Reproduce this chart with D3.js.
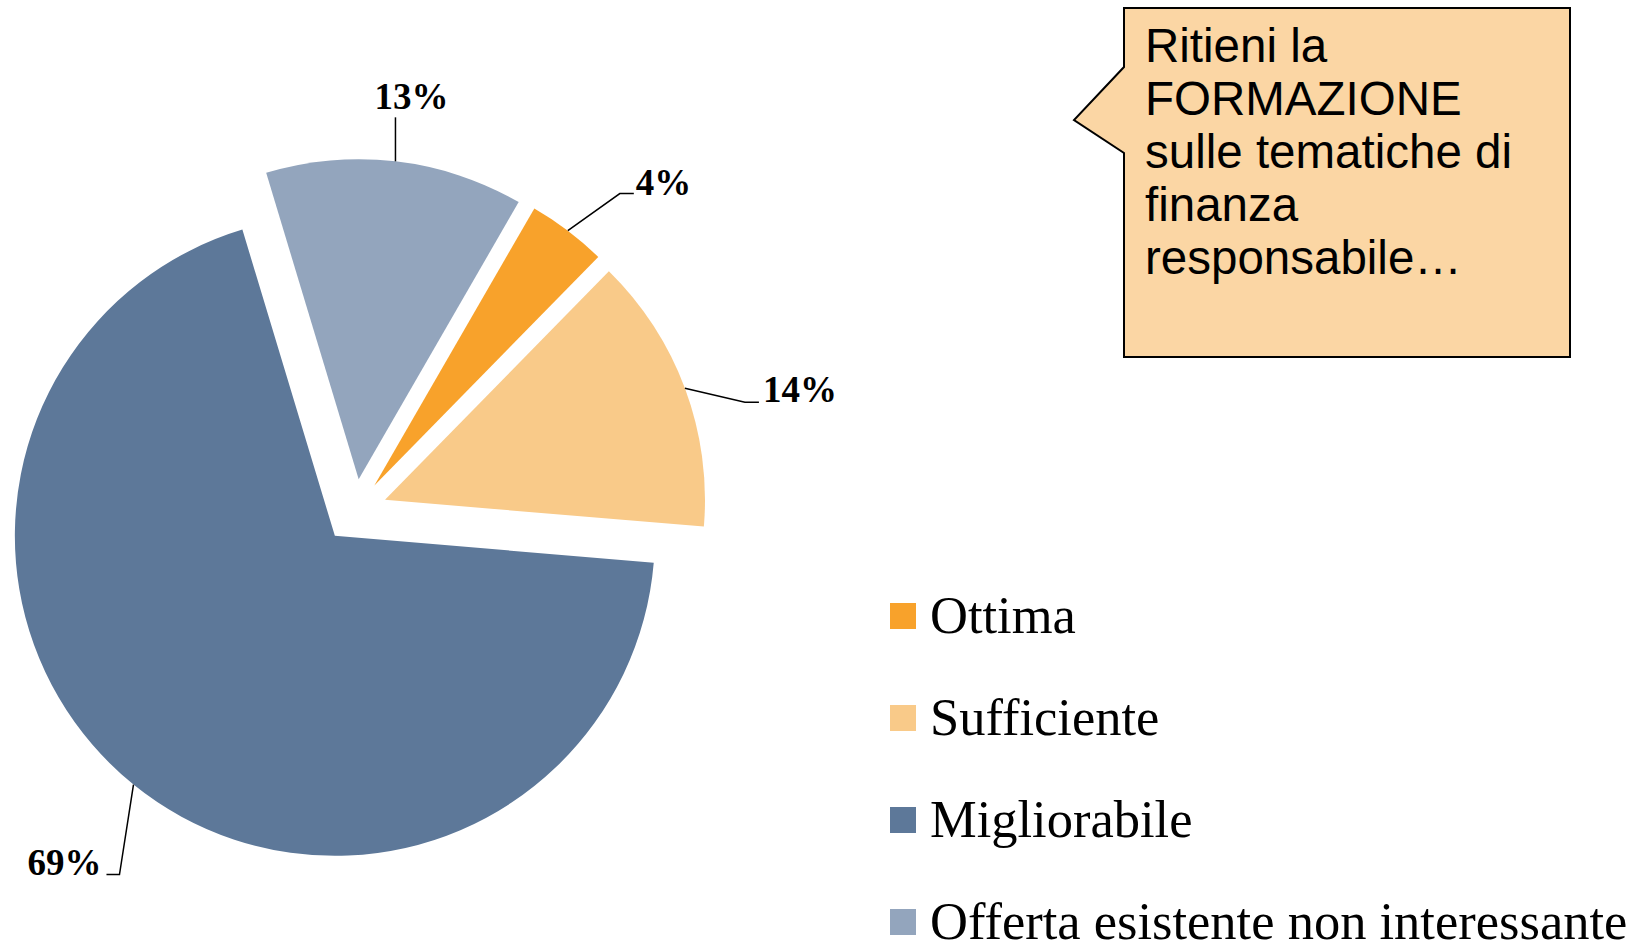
<!DOCTYPE html>
<html>
<head>
<meta charset="utf-8">
<script src="https://cdn.jsdelivr.net/npm/d3@7"></script>
<style>
  body { margin: 0; background: #fff; }
  svg { display: block; }
</style>
</head>
<body>
<div id="chart"></div>
<script>
/* chart data */
const categories = ["Ottima", "Sufficiente", "Migliorabile", "Offerta esistente non interessante"];
const values = [4, 14, 69, 13];
const percentLabels = ["4%", "14%", "69%", "13%"];
const calloutLines = ["Ritieni la", "FORMAZIONE", "sulle tematiche di", "finanza", "responsabile…"];

const colors = ["#f8a22b", "#f9ca89", "#5d7899", "#93a5bd"];

const width = 1642;
const height = 952;

// pie geometry
const cx = 355, cy = 511;
const radius = 320;
const explode = 32;
const startDeg = 30;

// label placement relative to the leader start on the arc
const labelLayout = [
  { elbow: [52, -37], tail: 14, anchor: "start", tx: 16, ty: 1 },
  { elbow: [60, 14], tail: 14, anchor: "start", tx: 18, ty: 0 },
  { elbow: [-14, 90], tail: -13, anchor: "end", tx: -18, ty: 0 },
  { elbow: [0, -44], tail: 0, anchor: "middle", tx: 16, ty: -8 }
];

const svg = d3.select("#chart")
  .append("svg")
  .attr("width", width)
  .attr("height", height);

/************************************************
 * 1. Pie slices (all exploded)                 *
 ************************************************/
const pie = d3.pie()
  .sort(null)
  .value(d => d)
  .startAngle(startDeg * Math.PI / 180)
  .endAngle(startDeg * Math.PI / 180 + 2 * Math.PI);

const arcs = pie(values);
const arc = d3.arc().innerRadius(0).outerRadius(radius);

function offsetOf(d, dist) {
  const a = (d.startAngle + d.endAngle) / 2;
  return [Math.sin(a) * dist, -Math.cos(a) * dist];
}

const g = svg.append("g").attr("transform", `translate(${cx},${cy})`);

g.selectAll("path.slice")
  .data(arcs)
  .enter()
  .append("path")
  .attr("class", "slice")
  .attr("d", arc)
  .attr("fill", (d, i) => colors[i])
  .attr("transform", d => {
    const [ox, oy] = offsetOf(d, explode);
    return `translate(${ox},${oy})`;
  });

/************************************************
 * 2. Data labels with leader lines             *
 ************************************************/
arcs.forEach((d, i) => {
  const [ox, oy] = offsetOf(d, explode);
  const [px, py] = offsetOf(d, radius);
  const sx = ox + px, sy = oy + py;
  const L = labelLayout[i];
  const ex = sx + L.elbow[0], ey = sy + L.elbow[1];
  const pts = [[sx, sy], [ex, ey], [ex + L.tail, ey]];

  g.append("path")
    .attr("d", d3.line()(pts))
    .attr("fill", "none")
    .attr("stroke", "#000")
    .attr("stroke-width", 1.5);

  g.append("text")
    .attr("x", ex + L.tx)
    .attr("y", ey + L.ty)
    .attr("text-anchor", L.anchor)
    .attr("font-family", "'Liberation Serif', 'Times New Roman', serif")
    .attr("font-weight", "bold")
    .attr("font-size", 37)
    .text(percentLabels[i]);
});

/************************************************
 * 3. Legend                                    *
 ************************************************/
const legend = svg.append("g").attr("transform", "translate(890,616)");
const rowH = 102;

categories.forEach((c, i) => {
  const row = legend.append("g").attr("transform", `translate(0,${i * rowH})`);
  row.append("rect")
    .attr("x", 0).attr("y", -13)
    .attr("width", 26).attr("height", 26)
    .attr("fill", colors[i]);
  row.append("text")
    .attr("x", 40).attr("y", 17)
    .attr("font-family", "'Liberation Serif', 'Times New Roman', serif")
    .attr("font-size", 52.5)
    .text(c);
});

/************************************************
 * 4. Callout box                               *
 ************************************************/
const callout = svg.append("g");
callout.append("path")
  .attr("d", "M1124,8 H1570 V357 H1124 V153 L1074,120 L1124,67 Z")
  .attr("fill", "#fbd6a4")
  .attr("stroke", "#000")
  .attr("stroke-width", 2);

callout.selectAll("text")
  .data(calloutLines)
  .enter()
  .append("text")
  .attr("x", 1145)
  .attr("y", (d, i) => 62 + i * 53)
  .attr("font-family", "'Liberation Sans', Arial, sans-serif")
  .attr("font-size", 47.5)
  .text(d => d);
</script>
</body>
</html>
